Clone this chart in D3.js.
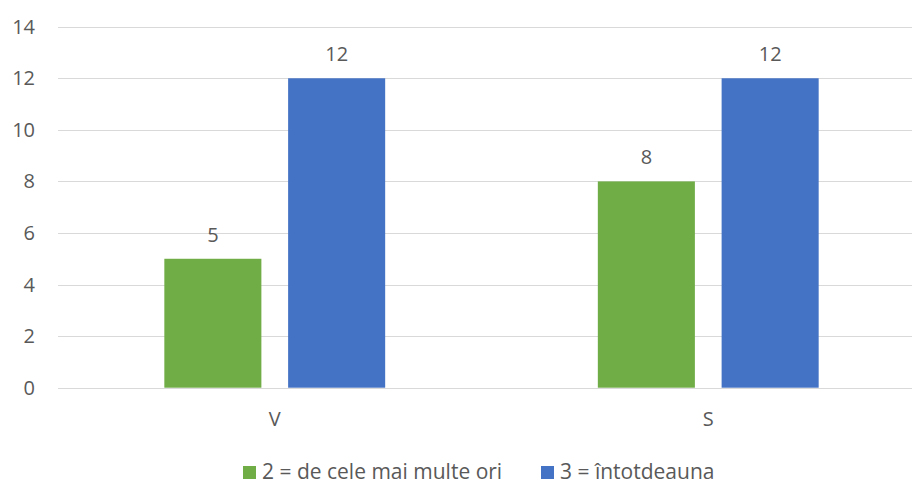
<!DOCTYPE html>
<html>
<head>
<meta charset="utf-8">
<script src="https://cdn.jsdelivr.net/npm/d3@7"></script>
<style>
  body { margin: 0; background: #fff; }
  text { font-family: "Open Sans", sans-serif; fill: #595959; }
</style>
</head>
<body>
<div id="container"></div>
<script>
// chart data
const categories = ["V", "S"];
const seriesNames = ["2 = de cele mai multe ori", "3 = întotdeauna"];
const seriesColors = ["#70AD47", "#4472C4"];
const often = [5, 8];
const always = [12, 12];
const yTicks = [0, 2, 4, 6, 8, 10, 12, 14];

const width = 912, height = 485;
const plotLeft = 58, plotRight = 925, plotTop = 26.7, plotBottom = 387.7;

const svg = d3.select("#container").append("svg")
  .attr("width", width)
  .attr("height", height);

const x = d3.scaleBand().domain(categories).range([plotLeft, plotRight]).paddingInner(0).paddingOuter(0);
const y = d3.scaleLinear().domain([0, 14]).range([plotBottom, plotTop]);
// bars of one category sit in the middle of its band
const xs = d3.scaleBand().domain([0, 1]).range([0, x.bandwidth()]).paddingInner(0.216).paddingOuter(0.859);

// gridlines
svg.append("g").selectAll("line")
  .data(yTicks)
  .join("line")
  .attr("x1", plotLeft)
  .attr("x2", width)
  .attr("y1", d => Math.round(y(d)) + 0.5)
  .attr("y2", d => Math.round(y(d)) + 0.5)
  .attr("stroke", "#d9d9d9")
  .attr("stroke-width", 1);

// y labels
svg.append("g").selectAll("text")
  .data(yTicks)
  .join("text")
  .attr("x", 35)
  .attr("y", d => y(d) + 7)
  .attr("text-anchor", "end")
  .attr("font-size", 20)
  .text(d => d);

const rows = categories.map((c, i) => ({ cat: c, vals: [often[i], always[i]] }));

const groups = svg.append("g").selectAll("g")
  .data(rows)
  .join("g")
  .attr("transform", d => `translate(${x(d.cat)},0)`);

groups.selectAll("rect")
  .data(d => d.vals.map((v, k) => ({ v, k })))
  .join("rect")
  .attr("x", d => xs(d.k))
  .attr("width", xs.bandwidth())
  .attr("y", d => y(d.v))
  .attr("height", d => y(0) - y(d.v))
  .attr("fill", d => seriesColors[d.k]);

groups.selectAll("text.val")
  .data(d => d.vals.map((v, k) => ({ v, k })))
  .join("text")
  .attr("class", "val")
  .attr("x", d => xs(d.k) + xs.bandwidth() / 2)
  .attr("y", d => y(d.v) - 17)
  .attr("text-anchor", "middle")
  .attr("font-size", 20)
  .text(d => d.v);

// category labels
svg.append("g").selectAll("text")
  .data(categories)
  .join("text")
  .attr("x", d => x(d) + x.bandwidth() / 2)
  .attr("y", 426)
  .attr("text-anchor", "middle")
  .attr("font-size", 20)
  .text(d => d);

// legend
const legendX = [243, 541];
const legend = svg.append("g").selectAll("g")
  .data(seriesNames)
  .join("g")
  .attr("transform", (d, i) => `translate(${legendX[i]},466)`);

legend.append("rect")
  .attr("width", 13)
  .attr("height", 13)
  .attr("fill", (d, i) => seriesColors[i]);

legend.append("text")
  .attr("x", 19)
  .attr("y", 13)
  .attr("font-size", 21)
  .text(d => d);
</script>
</body>
</html>
